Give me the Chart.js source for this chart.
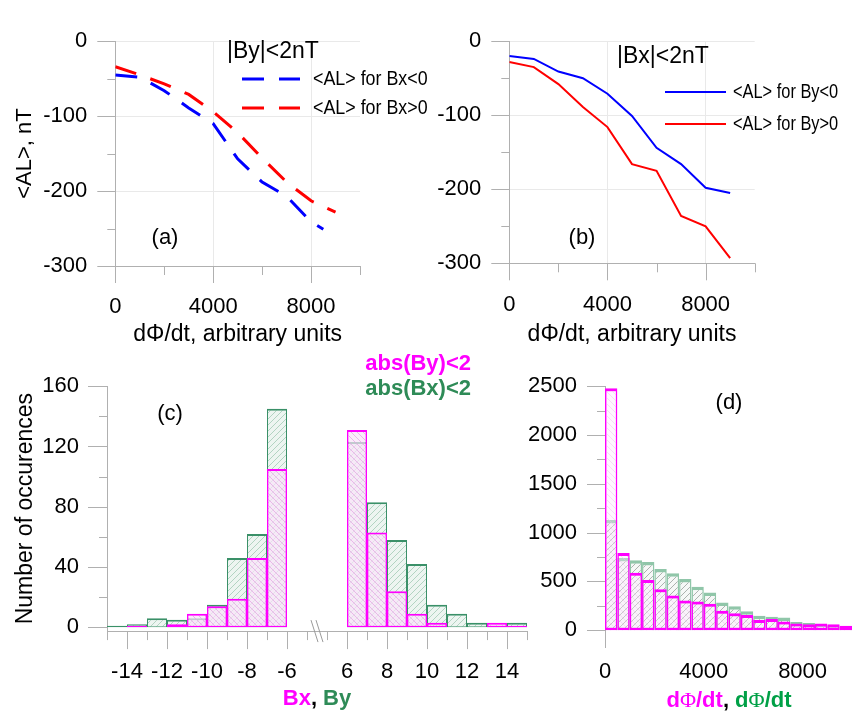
<!DOCTYPE html>
<html><head><meta charset="utf-8">
<script src="https://cdn.jsdelivr.net/npm/chart.js@4.4.1/dist/chart.umd.min.js"></script>
<style>
html,body{margin:0;padding:0;background:#fff;}
#wrap{position:relative;width:854px;height:713px;overflow:hidden;font-family:"Liberation Sans",Arial,sans-serif;color:#000;}
canvas{position:absolute;}
.t{position:absolute;white-space:nowrap;line-height:1;font-size:22px;}
.c{transform:translate(-50%,-50%);}
.r{transform:translate(-100%,-50%);}
.l{transform:translate(0,-50%);}
.phi{font-family:"Liberation Serif",serif;font-weight:normal;}
</style></head><body>
<div id="wrap">
<canvas id="ca" width="427" height="360" style="left:0;top:0"></canvas>
<canvas id="cb" width="427" height="360" style="left:427px;top:0"></canvas>
<canvas id="cc" width="560" height="368" style="left:0;top:345px"></canvas>
<canvas id="cd" width="354" height="368" style="left:500px;top:345px"></canvas>

<div class="t l" style="left:227px;top:50px;font-size:23px">|By|&lt;2nT</div>
<div class="t c" style="left:165px;top:237px">(a)</div>
<div class="t l" style="left:617px;top:55px;font-size:23px">|Bx|&lt;2nT</div>
<div class="t c" style="left:582px;top:237px">(b)</div>

<div class="t r" style="left:471px;top:363px;font-weight:bold;color:#ff00ff">abs(By)&lt;2</div>
<div class="t r" style="left:471px;top:388px;font-weight:bold;color:#2e8b57">abs(Bx)&lt;2</div>
<div class="t c" style="left:170px;top:413px">(c)</div>
<div class="t c" style="left:317px;top:698px;font-weight:bold"><span style="color:#ff00ff">Bx</span>, <span style="color:#2e8b57">By</span></div>

<div class="t c" style="left:729px;top:402px">(d)</div>
<div class="t c" style="left:729px;top:700px;font-weight:bold"><span style="color:#ff00ff">d<span class="phi">Φ</span>/dt</span>, <span style="color:#00a046">d<span class="phi">Φ</span>/dt</span></div>
</div>
<script>
// ---------- DATA ----------
// Panel (a): |By|<2nT
const aBlueX = [0, 1000, 2000, 3000, 4000, 5000, 6000, 7000, 8000, 8500];
const aBlueY = [-45, -48, -66, -89, -110, -157, -188, -207, -241, -251];
const aRedX  = [0, 1000, 2000, 3000, 4000, 5000, 6000, 7000, 8000, 9000];
const aRedY  = [-34, -45, -57, -71, -94, -122, -156, -188, -213, -228];
// Panel (b): |Bx|<2nT
const bX     = [0, 1000, 2000, 3000, 4000, 5000, 6000, 7000, 8000, 9000];
const bBlueY = [-20, -24, -41, -50, -71, -101, -144, -166, -198, -205];
const bRedY  = [-28, -35, -58, -89, -116, -166, -175, -236, -250, -293];
// Axis ticks for (a),(b)
const abXTicks  = [0, 2000, 4000, 6000, 8000, 10000];
const abXLabels = [0, 4000, 8000];
const abYTicks  = [-300, -250, -200, -150, -100, -50, 0];
const abYLabels = [-300, -200, -100, 0];
// Panel (c): histogram, bins of width 1 (left edges)
const cBinLeft = [-15, -14, -13, -12, -11, -10, -9, -8, -7, 6, 7, 8, 9, 10, 11, 12, 13, 14];
const cBx = [0, 1, 0, 2, 9, 14, 19, 46, 105, 131, 63, 24, 9, 3, 0, 0, 3, 1];      // abs(By)<2 (magenta)
const cBy = [1, 2, 6, 5, 6, 15, 46, 62, 145, 123, 83, 58, 42, 15, 9, 3, 1, 3];    // abs(Bx)<2 (green)
const cTickVals  = [-15, -14, -13, -12, -11, -10, -9, -8, -7, -6, -5, 5, 6, 7, 8, 9, 10, 11, 12, 13, 14, 15];
const cTickLabels = [-14, -12, -10, -8, -6, 6, 8, 10, 12, 14];
const cYTicks  = [0, 20, 40, 60, 80, 100, 120, 140, 160];
const cYLabels = [0, 40, 80, 120, 160];
// Panel (d): histogram, bins of width 500 (left edges)
const dBinLeft = [0, 500, 1000, 1500, 2000, 2500, 3000, 3500, 4000, 4500, 5000, 5500, 6000, 6500, 7000, 7500, 8000, 8500, 9000, 9500];
const dMag   = [2480, 790, 590, 515, 420, 355, 305, 295, 270, 200, 175, 155, 105, 115, 90, 70, 62, 68, 62, 45];
const dGreen = [1130, 740, 718, 698, 628, 584, 524, 445, 386, 285, 245, 195, 148, 138, 130, 84, 75, 60, 50, 35];
const dBinWidth = 500;
const dXLabels = [0, 4000, 8000];
const dYTicks  = [0, 250, 500, 750, 1000, 1250, 1500, 1750, 2000, 2250, 2500];
const dYLabels = [0, 500, 1000, 1500, 2000, 2500];

// ---------- HELPERS ----------
Chart.defaults.font.family = '"Liberation Sans", Arial, sans-serif';
Chart.defaults.color = '#000';
const AXIS = '#b0b0b0', GRID = '#e9e9e9';
const gridColor = (c) => (c.tick && c.tick.label) ? GRID : 'rgba(0,0,0,0)';
const setTicks = (vals) => (s) => { s.ticks = vals.map(v => ({value: v})); };

function hatch(lineColor, bg, dir) {
  const n = 6, c = document.createElement('canvas');
  c.width = n; c.height = n;
  const g = c.getContext('2d');
  if (bg) { g.fillStyle = bg; g.fillRect(0, 0, n, n); }
  g.strokeStyle = lineColor; g.lineWidth = 1;
  g.beginPath();
  if (dir === '/') {
    g.moveTo(0, n); g.lineTo(n, 0); g.moveTo(-1, 1); g.lineTo(1, -1); g.moveTo(n - 1, n + 1); g.lineTo(n + 1, n - 1);
  } else {
    g.moveTo(0, 0); g.lineTo(n, n); g.moveTo(n - 1, -1); g.lineTo(n + 1, 1); g.moveTo(-1, n - 1); g.lineTo(1, n + 1);
  }
  g.stroke();
  return g.createPattern(c, 'repeat');
}

const customTicks = {
  id: 'customTicks',
  afterDraw(chart, args, o) {
    const ctx = chart.ctx;
    ctx.save();
    ctx.strokeStyle = o.color || AXIS; ctx.lineWidth = 1;
    ['x', 'y'].forEach(id => {
      const s = chart.scales[id];
      const major = o[id + 'Major'], minor = o[id + 'Minor'];
      if (!s || !major) return;
      s.ticks.forEach(t => {
        const len = t.label ? major : minor;
        const p = Math.round(s.getPixelForValue(t.value)) + 0.5;
        ctx.beginPath();
        if (id === 'x') { ctx.moveTo(p, s.top); ctx.lineTo(p, s.top + len); }
        else { ctx.moveTo(s.right - len, p); ctx.lineTo(s.right, p); }
        ctx.stroke();
      });
    });
    ctx.restore();
  }
};

const inlineLegend = {
  id: 'inlineLegend',
  afterDraw(chart, args, o) {
    if (!o || !o.len) return;
    const ctx = chart.ctx;
    chart.data.datasets.forEach((ds, i) => {
      const y = o.y + i * o.dy;
      ctx.save();
      ctx.strokeStyle = ds.borderColor; ctx.lineWidth = ds.borderWidth;
      ctx.setLineDash(ds.borderDash || []);
      ctx.beginPath(); ctx.moveTo(o.x, y); ctx.lineTo(o.x + o.len, y); ctx.stroke();
      ctx.setLineDash([]);
      ctx.font = o.size + 'px "Liberation Sans", Arial, sans-serif';
      ctx.fillStyle = '#000'; ctx.textBaseline = 'middle'; ctx.textAlign = 'left';
      ctx.translate(o.x + o.len + o.gap, y); ctx.scale(o.sx, 1);
      ctx.fillText(ds.label, 0, 0);
      ctx.restore();
    });
  }
};

const axisBreak = {
  id: 'axisBreak',
  afterDraw(chart, args, o) {
    if (!o || o.at === undefined) return;
    const s = chart.scales.x, ctx = chart.ctx;
    const cx = s.getPixelForValue(o.at), y = s.top;
    ctx.save();
    ctx.strokeStyle = '#9a9a9a'; ctx.lineWidth = 1;
    [-2.5, 2.5].forEach(d => {
      ctx.beginPath(); ctx.moveTo(cx + d - 3.5, y - 11); ctx.lineTo(cx + d + 3.5, y + 11); ctx.stroke();
    });
    ctx.restore();
  }
};

function lineChart(id, datasets, geo, yTitle, legend) {
  return new Chart(document.getElementById(id), {
    type: 'line',
    data: {datasets},
    options: {
      responsive: false, animation: false, devicePixelRatio: 1,
      layout: {padding: {left: 0, right: geo.right, top: geo.top, bottom: 0}},
      plugins: {
        legend: {display: false}, tooltip: {enabled: false},
        customTicks: {xMajor: 17, xMinor: 9, yMajor: 18, yMinor: 8},
        inlineLegend: legend
      },
      scales: {
        x: {
          type: 'linear', min: 0, max: 10000,
          afterBuildTicks: setTicks(abXTicks),
          afterFit: s => { s.height = geo.xh; },
          ticks: {autoSkip: false, maxRotation: 0, padding: 28, font: {size: 22},
                  callback: v => abXLabels.includes(v) ? String(v) : ''},
          grid: {drawTicks: false, color: gridColor},
          border: {color: AXIS},
          title: {display: true, text: 'd\u03A6/dt, arbitrary units', font: {size: 23}, padding: {top: 0, bottom: 12}}
        },
        y: {
          type: 'linear', min: -300, max: 0,
          afterBuildTicks: setTicks(abYTicks),
          afterFit: s => { s.width = geo.yw; },
          ticks: {autoSkip: false, padding: 28, font: {size: 22},
                  callback: v => abYLabels.includes(v) ? String(v) : ''},
          grid: {drawTicks: false, color: gridColor},
          border: {color: AXIS},
          title: {display: !!yTitle, text: yTitle || '', font: {size: 22}, padding: {top: 12, bottom: 0}}
        }
      }
    },
    plugins: [customTicks, inlineLegend]
  });
}

// ---------- (a) ----------
lineChart('ca', [
  {label: '<AL> for Bx<0', data: aBlueX.map((x, i) => ({x, y: aBlueY[i]})), borderColor: '#0000ff', borderWidth: 3, borderDash: [22, 15], pointRadius: 0, tension: 0, fill: false},
  {label: '<AL> for Bx>0', data: aRedX.map((x, i) => ({x, y: aRedY[i]})), borderColor: '#ff0000', borderWidth: 3, borderDash: [22, 15], pointRadius: 0, tension: 0, fill: false}
], {right: 67, top: 20, xh: 94, yw: 115.3}, '<AL>, nT',
   {x: 242, y: 79, dy: 29, len: 58, gap: 13, size: 21, sx: 0.85});

// ---------- (b) ----------
lineChart('cb', [
  {label: '<AL> for By<0', data: bX.map((x, i) => ({x, y: bBlueY[i]})), borderColor: '#0000ff', borderWidth: 2, pointRadius: 0, tension: 0, fill: false},
  {label: '<AL> for By>0', data: bX.map((x, i) => ({x, y: bRedY[i]})), borderColor: '#ff0000', borderWidth: 2, pointRadius: 0, tension: 0, fill: false}
], {right: 99.3, top: 18.3, xh: 96.7, yw: 82.3}, null,
   {x: 238, y: 92, dy: 32, len: 61, gap: 7, size: 21, sx: 0.78});

// ---------- (c) ----------
const cGap = 1;                         // width of the axis break (axis units)
const cPos = x => x < 0 ? x + 15 : x - 5 + 10 + cGap;
const cInv = v => v < 10 + cGap / 2 ? Math.round(v - 15) : Math.round(v + 5 - 10 - cGap);
const cMax = cPos(15);
new Chart(document.getElementById('cc'), {
  type: 'bar',
  data: {datasets: [
    {label: 'abs(By)<2', order: 1, grouped: false,
     data: cBinLeft.map((l, i) => ({x: cPos(l) + 0.5, y: cBx[i]})),
     backgroundColor: hatch('rgba(226,160,226,0.7)', 'rgba(250,228,250,0.7)', '\\'),
     borderColor: '#ff00ff', borderWidth: {top: 2, left: 1.5, right: 1.5, bottom: 1.5}, borderSkipped: false,
     barPercentage: 1, categoryPercentage: 1, inflateAmount: 0},
    {label: 'abs(Bx)<2', order: 2, grouped: false,
     data: cBinLeft.map((l, i) => ({x: cPos(l) + 0.5, y: cBy[i]})),
     backgroundColor: hatch('rgba(178,212,194,1)', 'rgba(237,245,241,1)', '/'),
     borderColor: '#3a9068', borderWidth: {top: 2, left: 1, right: 1, bottom: 1}, borderSkipped: false,
     barPercentage: 1, categoryPercentage: 1, inflateAmount: 0}
  ]},
  options: {
    responsive: false, animation: false, devicePixelRatio: 1,
    layout: {padding: {left: 0, right: 33, top: 39.3, bottom: 0}},
    plugins: {legend: {display: false}, tooltip: {enabled: false},
      customTicks: {xMajor: 18, xMinor: 9, yMajor: 19, yMinor: 8},
      axisBreak: {at: 10 + cGap / 2}},
    scales: {
      x: {type: 'linear', offset: false, min: 0, max: cMax,
          afterBuildTicks: s => { s.ticks = cTickVals.map(x => ({value: cPos(x)})); },
          afterFit: s => { s.height = 81.9; },
          ticks: {autoSkip: false, maxRotation: 0, padding: 28, font: {size: 22},
                  callback: v => cTickLabels.includes(cInv(v)) ? String(cInv(v)) : ''},
          grid: {display: false, drawTicks: false}, border: {color: AXIS}},
      y: {type: 'linear', min: -2.5, max: 160,
          afterBuildTicks: setTicks(cYTicks),
          afterFit: s => { s.width = 107; },
          ticks: {autoSkip: false, padding: 28, font: {size: 22},
                  callback: v => cYLabels.includes(v) ? String(v) : ''},
          grid: {display: false, drawTicks: false}, border: {color: AXIS},
          title: {display: true, text: 'Number of occurences', font: {size: 23}, padding: {top: 12, bottom: 0}}}
    }
  },
  plugins: [customTicks, axisBreak]
});

// ---------- (d) ----------
new Chart(document.getElementById('cd'), {
  type: 'bar',
  data: {datasets: [
    {label: 'abs(By)<2', order: 1, grouped: false,
     data: dBinLeft.map((l, i) => ({x: l + dBinWidth / 2, y: dMag[i]})),
     backgroundColor: hatch('rgba(235,190,235,0.45)', 'rgba(255,236,255,0.35)', '\\'),
     borderColor: '#ff00ff', borderWidth: {top: 3, left: 1.5, right: 1.5, bottom: 2.5}, borderSkipped: false,
     barPercentage: 1, categoryPercentage: 1, inflateAmount: 0},
    {label: 'abs(Bx)<2', order: 2, grouped: false,
     data: dBinLeft.map((l, i) => ({x: l + dBinWidth / 2, y: dGreen[i]})),
     backgroundColor: hatch('rgba(172,178,175,1)', 'rgba(246,248,247,1)', '/'),
     borderColor: 'rgba(70,160,112,0.6)', borderWidth: {top: 3.5, left: 1.5, right: 1.5, bottom: 0}, borderSkipped: false,
     barPercentage: 1, categoryPercentage: 1, inflateAmount: 0}
  ]},
  options: {
    responsive: false, animation: false, devicePixelRatio: 1,
    layout: {padding: {left: 0, right: 2, top: 37.5, bottom: 0}},
    plugins: {legend: {display: false}, tooltip: {enabled: false},
      customTicks: {yMajor: 18, yMinor: 8}},
    scales: {
      x: {type: 'linear', offset: false, min: 0, max: 10000,
          afterBuildTicks: setTicks(dXLabels),
          afterFit: s => { s.height = 65.2; },
          ticks: {autoSkip: false, maxRotation: 0, padding: 11, font: {size: 22}, callback: v => String(v)},
          grid: {display: false, drawTicks: false}, border: {display: false}},
      y: {type: 'linear', min: -180, max: 2500,
          afterBuildTicks: setTicks(dYTicks),
          afterFit: s => { s.width = 105; },
          ticks: {autoSkip: false, padding: 28, font: {size: 22},
                  callback: v => dYLabels.includes(v) ? String(v) : ''},
          grid: {display: false, drawTicks: false}, border: {color: AXIS}}
    }
  },
  plugins: [customTicks]
});
</script>
</body></html>
